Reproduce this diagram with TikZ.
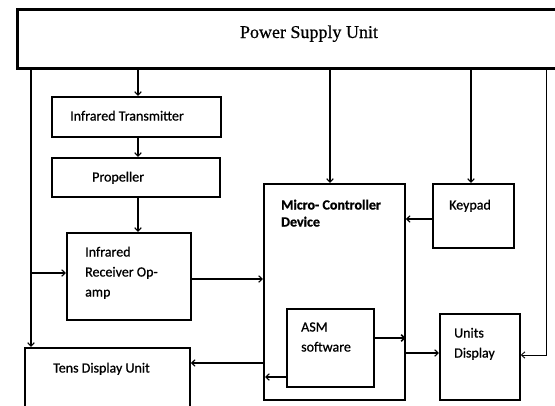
\documentclass[tikz,border=0pt]{standalone}
\usepackage{fontspec}
\setmainfont{Carlito}[FakeBold=0.8]
\newfontfamily\bodyfont{Carlito}[FakeBold=0.8]
\newfontfamily\serifttl{Liberation Serif}[FakeBold=0.6]
\usetikzlibrary{arrows.meta}
\begin{document}
\begin{tikzpicture}[x=1pt,y=-1pt,
  box/.style={draw, line width=1.8pt, anchor=north west, inner sep=0pt},
  conn/.style={line width=1.1pt, -{Straight Barb[length=3.5pt,width=6.5pt]}},
  lbl/.style={anchor=base west, inner sep=0pt, font=\bodyfont\fontsize{14}{20}\selectfont},
  blbl/.style={anchor=base west, inner sep=0pt, font=\fontsize{14}{17}\selectfont\bfseries}]
\useasboundingbox (0,0) rectangle (555,405);
\clip (0,0) rectangle (555,405);

% boxes
\node[box, line width=2.5pt, minimum width=560pt, minimum height=59pt] (psu) at (16,8) {};
\node[box, minimum width=169pt, minimum height=40pt] (it) at (51,96) {};
\node[box, minimum width=168pt, minimum height=39pt] (prop) at (51,157) {};
\node[box, minimum width=124pt, minimum height=87pt] (ir) at (66,232) {};
\node[box, minimum width=141pt, minimum height=216pt] (mcu) at (263,183) {};
\node[box, minimum width=81pt, minimum height=64pt] (key) at (432,183) {};
\node[box, minimum width=87pt, minimum height=78pt] (asm) at (286,308) {};
\node[box, minimum width=80pt, minimum height=86pt] (units) at (439,313) {};
\node[box, minimum width=165pt, minimum height=70pt] (tens) at (24,347) {};

% texts
\node[anchor=base, inner sep=0pt, font=\serifttl\fontsize{18}{20}\selectfont] (psut) at (309,38) {Power Supply Unit};
\node[lbl] (itt) at (70,120.5) {Infrared Transmitter};
\node[lbl] (propt) at (92,181.5) {Propeller};
\node[lbl] (irt1) at (85,256.5) {Infrared};
\node[lbl] (irt2) at (85,276.5) {Receiver Op-};
\node[lbl] (irt3) at (85,296.5) {amp};
\node[lbl] (tenst) at (53,372.5) {Tens Display Unit};
\node[blbl] (mcut1) at (281,209.5) {Micro- Controller};
\node[blbl] (mcut2) at (281,226.5) {Device};
\node[lbl] (keyt) at (449,209.5) {Keypad};
\node[lbl] (asmt1) at (301,331.5) {ASM};
\node[lbl] (asmt2) at (301,351.5) {software};
\node[lbl] (unitst1) at (454,337.5) {Units};
\node[lbl] (unitst2) at (454,357.5) {Display};

% helper coordinates
\coordinate (cA) at (31,0);
\coordinate (cB) at (138,0);
\coordinate (cC) at (330,0);
\coordinate (cD) at (471,0);
\coordinate (cE) at (546,0);
\coordinate (br) at (31,273);
\coordinate (y279) at (0,279);
\coordinate (y219) at (0,219);
\coordinate (y338) at (0,338);
\coordinate (y353) at (0,353);
\coordinate (y355) at (0,355);
\coordinate (y363) at (0,363);
\coordinate (y377) at (0,377);

% connectors
\draw[conn] (psu.south -| cA) -- (tens.north -| cA);
\draw[conn] (br) -- (ir.west |- br);
\draw[conn] (psu.south -| cB) -- (it.north -| cB);
\draw[conn] (it.south -| cB) -- (prop.north -| cB);
\draw[conn] (prop.south -| cB) -- (ir.north -| cB);
\draw[conn] (ir.east |- y279) -- (mcu.west |- y279);
\draw[conn] (psu.south -| cC) -- (mcu.north -| cC);
\draw[conn] (psu.south -| cD) -- (key.north -| cD);
\draw[conn] (key.west |- y219) -- (mcu.east |- y219);
\draw[conn, line width=1.6pt] (asm.east |- y338) -- (mcu.east |- y338);
\draw[conn] (mcu.east |- y353) -- (units.west |- y353);
\draw[conn, line width=0.9pt] (psu.south -| cE) -- (cE |- y355) -- (units.east |- y355);
\draw[conn] (asm.west |- y377) -- ([xshift=2pt]mcu.west |- y377);
\draw[conn] (mcu.west |- y363) -- (tens.east |- y363);
\end{tikzpicture}
\end{document}
